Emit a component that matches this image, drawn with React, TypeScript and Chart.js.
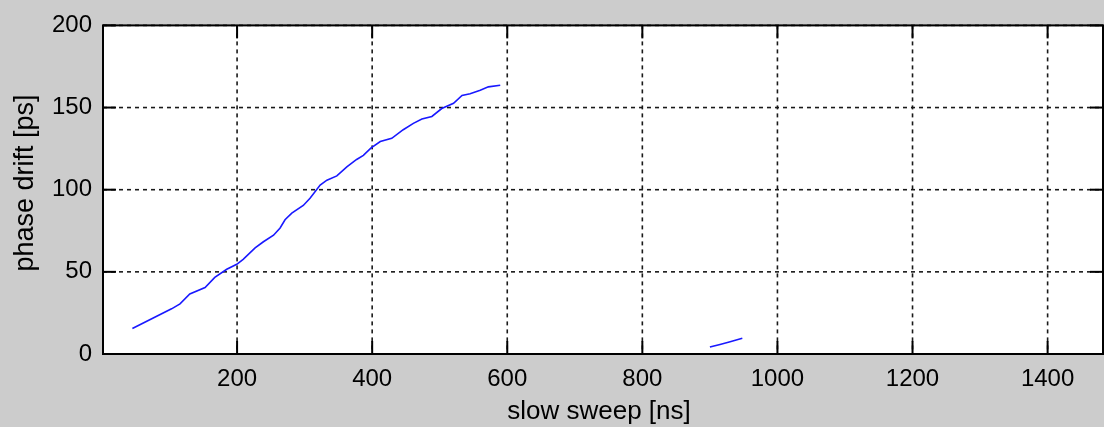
import React, { useEffect, useRef } from 'react';
import { Chart, registerables } from 'chart.js';

Chart.register(...registerables);

// main drift curve (slow sweep [ns], phase drift [ps])
const driftX = [45, 103, 115.5, 130, 152.6, 167, 184.7, 199.5, 209, 226.7, 239, 254, 263.7, 271, 281, 298, 308, 323, 333, 347.7, 362.5, 377, 387, 398, 412, 429, 446, 461, 473.6, 488.4, 503, 520.5, 533, 545, 560, 572, 589.6];
const driftY = [15.5, 27.5, 30.5, 36.5, 40.5, 46.6, 51.6, 54.6, 57.6, 64.6, 68.3, 72.3, 76.7, 81.7, 85.7, 90.4, 94.8, 102.8, 105.8, 108.4, 113.9, 118.4, 120.9, 125.3, 129.3, 131.3, 136.5, 140.4, 143, 144.6, 149.4, 152.6, 157.4, 158.4, 160.6, 162.6, 163.6];

// short second segment
const tailX = [900, 915, 930, 948];
const tailY = [4.2, 5.8, 7.5, 9.6];

const xTicks = [200, 400, 600, 800, 1000, 1200, 1400];
const yTicks = [0, 50, 100, 150, 200];
const X_MIN = 1.5;
const X_MAX = 1482;
const Y_MIN = 0;
const Y_MAX = 200;

const xTitle = 'slow sweep [ns]';
const yTitle = 'phase drift [ps]';

const FONT = '"Liberation Sans", Arial, Helvetica, sans-serif';

const framePlugin = {
  id: 'matlabFrame',
  beforeDraw(chart: any) {
    const { ctx, chartArea: a, width, height } = chart;
    ctx.save();
    ctx.fillStyle = '#cccccc';
    ctx.fillRect(0, 0, width, height);
    ctx.fillStyle = '#ffffff';
    ctx.fillRect(a.left, a.top, a.right - a.left, a.bottom - a.top);
    ctx.restore();
  },
  beforeDatasetsDraw(chart: any) {
    const { ctx, chartArea: a, scales } = chart;
    const xs = scales.x;
    const ys = scales.y;
    const line = (x1: number, y1: number, x2: number, y2: number) => {
      ctx.beginPath();
      ctx.moveTo(x1, y1);
      ctx.lineTo(x2, y2);
      ctx.stroke();
    };
    ctx.save();
    ctx.strokeStyle = '#1a1a1a';
    ctx.lineWidth = 1.6;
    ctx.setLineDash([4, 4]);
    xTicks.forEach((v) => {
      const px = xs.getPixelForValue(v);
      line(px, a.top, px, a.bottom);
    });
    yTicks.forEach((v) => {
      const py = ys.getPixelForValue(v);
      line(a.left, py, a.right, py);
    });
    ctx.setLineDash([]);
    ctx.strokeStyle = '#000';
    ctx.lineWidth = 2;
    const TL = 13;
    xTicks.forEach((v) => {
      const px = xs.getPixelForValue(v);
      line(px, a.bottom, px, a.bottom - TL);
      line(px, a.top, px, a.top + TL);
    });
    yTicks.forEach((v) => {
      const py = ys.getPixelForValue(v);
      line(a.left, py, a.left + TL, py);
      line(a.right, py, a.right - TL, py);
    });
    ctx.strokeRect(a.left, a.top, a.right - a.left, a.bottom - a.top);
    ctx.restore();
  },
  afterDraw(chart: any) {
    const { ctx, chartArea: a } = chart;
    ctx.save();
    ctx.fillStyle = '#000';
    ctx.font = `26px ${FONT}`;
    ctx.textAlign = 'center';
    ctx.textBaseline = 'alphabetic';
    ctx.fillText(xTitle, (a.left + a.right) / 2 - 4, 419);
    ctx.translate(32.5, 183);
    ctx.rotate(-Math.PI / 2);
    ctx.font = `27px ${FONT}`;
    ctx.fillText(yTitle, 0, 0);
    ctx.restore();
  },
};

export default function App() {
  const ref = useRef<HTMLCanvasElement | null>(null);

  useEffect(() => {
    if (!ref.current) return;
    const chart = new Chart(ref.current, {
      type: 'line',
      data: {
        datasets: [
          {
            data: driftX.map((x, i) => ({ x, y: driftY[i] })),
            borderColor: 'rgb(25,25,255)',
            borderWidth: 1.6,
            pointRadius: 0,
            fill: false,
            tension: 0,
          },
          {
            data: tailX.map((x, i) => ({ x, y: tailY[i] })),
            borderColor: 'rgb(25,25,255)',
            borderWidth: 1.6,
            pointRadius: 0,
            fill: false,
            tension: 0,
          },
        ],
      },
      options: {
        animation: false,
        responsive: false,
        devicePixelRatio: 1,
        layout: { padding: { top: 22, right: 1, left: 0, bottom: 0 } },
        plugins: {
          legend: { display: false },
          tooltip: { enabled: false },
        },
        scales: {
          x: {
            type: 'linear',
            min: X_MIN,
            max: X_MAX,
            afterBuildTicks: (s: any) => {
              s.ticks = xTicks.map((v) => ({ value: v }));
            },
            afterFit: (s: any) => {
              s.height = 73;
            },
            grid: { display: false, drawTicks: false },
            border: { display: false },
            ticks: {
              padding: 11,
              color: '#000',
              font: { family: FONT, size: 24 },
              maxRotation: 0,
              autoSkip: false,
              callback: (v: any) => String(v),
            },
          },
          y: {
            type: 'linear',
            min: Y_MIN,
            max: Y_MAX,
            afterBuildTicks: (s: any) => {
              s.ticks = yTicks.map((v) => ({ value: v }));
            },
            afterFit: (s: any) => {
              s.width = 103;
            },
            grid: { display: false, drawTicks: false },
            border: { display: false },
            ticks: {
              padding: 11,
              color: '#000',
              font: { family: FONT, size: 24 },
              autoSkip: false,
              callback: (v: any) => String(v),
            },
          },
        },
      },
      plugins: [framePlugin],
    } as any);
    return () => chart.destroy();
  }, []);

  return (
    <div style={{ position: 'fixed', left: 0, top: 0, width: 1104, height: 427, background: '#cccccc' }}>
      <canvas ref={ref} width={1104} height={427} style={{ display: 'block', width: 1104, height: 427 }} />
    </div>
  );
}
